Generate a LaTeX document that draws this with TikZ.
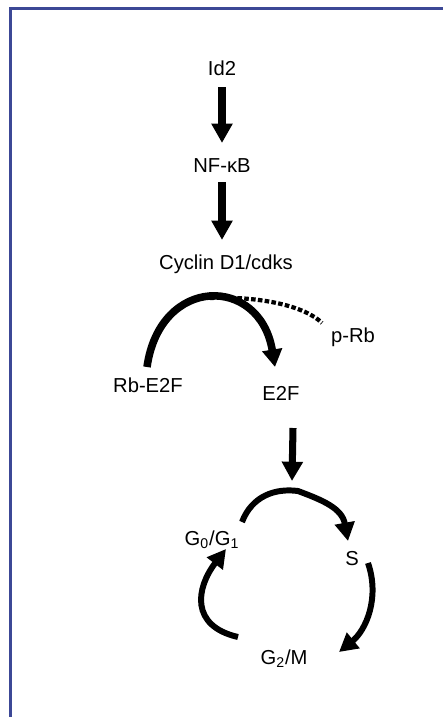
\documentclass[tikz,border=0pt]{standalone}
\usepackage{fontspec}
\setmainfont{Liberation Sans}
\usetikzlibrary{arrows.meta}
\usepackage{color}
\definecolor{framecol}{RGB}{60,72,150}

\begin{document}
\begin{tikzpicture}[x=0.02cm,y=-0.02cm,line cap=butt,
  lbl/.style={inner sep=0pt,text height=8.5pt,text depth=2.5pt,font=\fontsize{11.5}{13}\selectfont},
  bigarrow/.style={line width=4pt,-{Triangle[width=11.5pt,length=11pt]}},
  arcarrow/.style={line width=4.3pt,-{Triangle[width=11pt,length=10pt]}},
  cycarrow/.style={line width=3.4pt,-{Triangle[width=11pt,length=10.5pt]}},
  dotline/.style={line width=2.4pt,dash pattern=on 2.6pt off 1.3pt}]

  \useasboundingbox (0,0) rectangle (443,717);
  \draw[framecol,line width=1.3pt] (10.5,717) -- (10.5,8.5) -- (443,8.5);

  \node[lbl] (id2) at (222,70) {Id2};
  \node[lbl] (nfkb) at (222,167) {NF-κB};
  \node[lbl] (cyclin) at (226,264) {Cyclin D1/cdks};
  \node[lbl] (rbe2f) at (148,387) {Rb-E2F};
  \node[lbl] (e2f) at (281,395) {E2F};
  \node[lbl] (prb) at (353,337) {p-Rb};
  \node[lbl] (g0g1) at (212,540) {G\textsubscript{0}/G\textsubscript{1}};
  \node[lbl] (s) at (352,560) {S};
  \node[lbl] (g2m) at (284,659) {G\textsubscript{2}/M};

  \coordinate (rbout) at (147,367);
  \coordinate (e2fin) at (275,367);
  \coordinate (arctop) at (210,298);
  \coordinate (prbin) at (322,323);
  \coordinate (e2fout) at (293,428);
  \coordinate (cyctop) at (292,481);

  \draw[bigarrow,shorten <=4pt,shorten >=8pt] (id2.south) -- (nfkb.north);
  \draw[bigarrow,shorten <=3pt,shorten >=8pt] (nfkb.south) -- (nfkb.south |- cyclin.north);

  \draw[arcarrow] (rbout) .. controls (160,275) and (260,275) .. (e2fin);
  \draw[dotline] (arctop) .. controls (260,296) and (305,306) .. (prbin);

  \draw[bigarrow] (e2fout) -- (cyctop);

  % cell cycle
  \draw[cycarrow] (242,522) .. controls (252,496) and (275,488) .. (298,491)
    .. controls (322,500) and (342,508) .. (348,541);
  \draw[cycarrow] (368,563) .. controls (380,598) and (366,630) .. (339,652);
  \draw[cycarrow] (238,637) .. controls (190,626) and (196,588) .. (226,549);
\end{tikzpicture}
\end{document}
